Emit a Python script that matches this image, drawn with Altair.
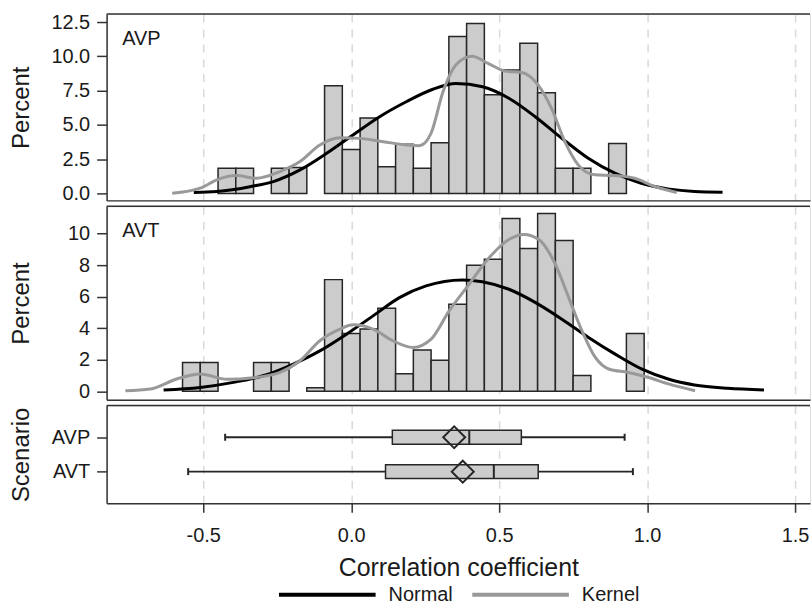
import altair as alt
import pandas as pd

# ---------------- values ----------------
BIN_WIDTH = 0.06

avp_bin_left = [-0.45, -0.39, -0.33, -0.27, -0.21, -0.15, -0.09, -0.03, 0.03, 0.09, 0.15,
                0.21, 0.27, 0.33, 0.39, 0.45, 0.51, 0.57, 0.63, 0.69, 0.75, 0.81, 0.87]
avp_percent = [1.85, 1.85, 0, 1.85, 1.9, 0, 7.85, 3.2, 5.5, 1.95, 3.6,
               1.85, 3.7, 11.45, 12.4, 7.2, 9.0, 10.95, 7.35, 1.85, 1.85, 0, 3.65]

avt_bin_left = [-0.57, -0.51, -0.45, -0.39, -0.33, -0.27, -0.21, -0.15, -0.09, -0.03, 0.03,
                0.09, 0.15, 0.21, 0.27, 0.33, 0.39, 0.45, 0.51, 0.57, 0.63, 0.69, 0.75, 0.81, 0.87, 0.93]
avt_percent = [1.82, 1.82, 0, 0, 1.82, 1.82, 0, 0.22, 7.08, 3.66, 3.94,
               5.27, 1.11, 2.61, 1.97, 5.52, 7.99, 8.37, 10.96, 9.06, 11.28, 9.57, 1.0, 0, 0, 3.66]

avp_normal_x = [-0.532, -0.454, -0.342, -0.263, -0.173, -0.083, 0.006, 0.096, 0.186, 0.276, 0.354,
                0.444, 0.534, 0.622, 0.712, 0.801, 0.891, 0.98, 1.07, 1.16, 1.255]
avp_normal_y = [0.07, 0.15, 0.5, 0.87, 1.72, 2.93, 4.27, 5.6, 6.69, 7.6, 8.02,
                7.78, 6.93, 5.6, 4.02, 2.57, 1.48, 0.75, 0.34, 0.15, 0.1]

avp_kernel_x = [-0.605, -0.51, -0.454, -0.387, -0.32, -0.241, -0.173, -0.106, -0.038, 0.029, 0.108,
                0.186, 0.231, 0.27, 0.31, 0.355, 0.408, 0.464, 0.52, 0.576, 0.632, 0.677, 0.722,
                0.767, 0.823, 0.891, 0.958, 1.026, 1.10]
avp_kernel_y = [0.02, 0.39, 1.0, 1.31, 1.11, 1.6, 2.33, 3.54, 4.07, 4.02, 3.78,
                3.54, 3.49, 4.4, 7.4, 9.4, 10.0, 9.47, 8.92, 8.82, 7.9, 6.2, 3.78,
                2.09, 1.36, 1.31, 1.11, 0.51, 0.07]

avt_normal_x = [-0.634, -0.51, -0.398, -0.286, -0.196, -0.106, -0.016, 0.074, 0.163, 0.253, 0.376,
                0.443, 0.533, 0.623, 0.712, 0.802, 0.892, 0.981, 1.071, 1.16, 1.272, 1.395]
avt_normal_y = [0.08, 0.24, 0.56, 1.04, 1.72, 2.56, 3.62, 4.78, 5.94, 6.68, 7.06,
                6.95, 6.47, 5.62, 4.57, 3.41, 2.35, 1.41, 0.77, 0.39, 0.18, 0.08]

avt_kernel_x = [-0.763, -0.679, -0.59, -0.51, -0.42, -0.331, -0.241, -0.173, -0.106, -0.038, 0.006,
                0.074, 0.141, 0.209, 0.27, 0.331, 0.398, 0.466, 0.533, 0.583, 0.634, 0.69, 0.735,
                0.78, 0.825, 0.87, 0.937, 1.005, 1.072, 1.162]
avt_kernel_y = [0.03, 0.14, 0.77, 1.09, 0.75, 0.85, 1.19, 1.93, 3.2, 3.94, 4.21,
                3.94, 3.2, 2.77, 3.3, 5.1, 6.78, 8.47, 9.63, 9.95, 9.63, 8.05, 5.94,
                3.83, 2.14, 1.41, 1.19, 0.87, 0.46, 0.03]

scenarios = ["AVP", "AVT"]
whisker_low = [-0.426, -0.551]
quart1 = [0.139, 0.116]
medians = [0.399, 0.482]
quart3 = [0.575, 0.632]
whisker_high = [0.924, 0.952]
means = [0.348, 0.377]

curve_names = ["Normal", "Kernel"]
curve_colors = ["#000000", "#999999"]

# ---------------- styling ----------------
FONT = "Liberation Sans"
FRAME = "#333333"
TEXT = "#1a1a1a"
BAR_FILL = "#cccccc"
EDGE = "#262626"
W = 706
X_DOMAIN = [-0.8266, 1.5505]
X_GRID = [-0.5, 0.0, 0.5, 1.0, 1.5]

x_scale = alt.Scale(domain=X_DOMAIN, nice=False, zero=False)

grid_kw = dict(values=X_GRID, grid=True, gridDash=[8, 7], gridColor="#d9d9d9", gridWidth=1.5,
               domain=True, domainColor=FRAME, domainWidth=1.5)

x_axis_plain = alt.Axis(ticks=False, labels=False, title=None, **grid_kw)
x_axis_full = alt.Axis(ticks=True, tickSize=9, tickColor=FRAME, tickWidth=1.5,
                       labels=True, labelFontSize=20, labelPadding=13, labelColor=TEXT, labelFont=FONT,
                       labelExpr="datum.value < 0 ? '-' + format(-datum.value, '.1f') : format(datum.value, '.1f')",
                       title="Correlation coefficient", titleFontSize=25, titleFont=FONT,
                       titleColor=TEXT, titleFontWeight="normal", titleBaseline="alphabetic", titleY=73,
                       **grid_kw)


def y_axis(title, values=None, fmt=None):
    kw = dict(grid=False, domain=True, domainColor=FRAME, domainWidth=1.5,
              ticks=True, tickSize=10, tickColor=FRAME, tickWidth=1.5,
              labelFontSize=20, labelPadding=7, labelColor=TEXT, labelFont=FONT,
              title=title, titleFontSize=24, titleFont=FONT, titleColor=TEXT, titleFontWeight="normal",
              titleX=-85, titleBaseline="middle", titleAngle=270)
    if values is not None:
        kw["values"] = values
    if fmt is not None:
        kw["format"] = fmt
    return alt.Axis(**kw)


legend = alt.Legend(title=None, orient="none", legendX=171, legendY=532, direction="horizontal",
                    symbolType="stroke", symbolSize=9409, symbolStrokeWidth=4,
                    labelFontSize=20, labelFont=FONT, labelColor=TEXT, labelOffset=11,
                    columnPadding=11)
color_scale = alt.Scale(domain=curve_names, range=curve_colors)


def hist_panel(bin_left, pct, nx, ny, kx, ky, y_domain, y_ticks, y_fmt, height, label, label_y):
    bars = pd.DataFrame({"x0": bin_left, "pct": pct})
    bars = bars[bars["pct"] > 0].copy()
    bars["x1"] = (bars["x0"] + BIN_WIDTH).round(3)
    curves = pd.concat([
        pd.DataFrame({"x": nx, "pct": ny, "curve": "Normal"}),
        pd.DataFrame({"x": kx, "pct": ky, "curve": "Kernel"}),
    ])
    y_scale = alt.Scale(domain=y_domain, nice=False, zero=False)
    yax = y_axis("Percent", y_ticks, y_fmt)

    bar_layer = alt.Chart(bars).mark_bar(fill=BAR_FILL, stroke=EDGE, strokeWidth=1.5).encode(
        x=alt.X("x0:Q", scale=x_scale, axis=x_axis_plain),
        x2="x1:Q",
        y=alt.Y("pct:Q", scale=y_scale, axis=yax),
        y2=alt.datum(0),
    )
    normal_layer = alt.Chart(curves[curves["curve"] == "Normal"]).mark_line(
        strokeWidth=3, interpolate="monotone").encode(
        x=alt.X("x:Q", scale=x_scale, axis=x_axis_plain),
        y=alt.Y("pct:Q", scale=y_scale, axis=yax),
        color=alt.Color("curve:N", scale=color_scale, legend=legend),
    )
    kernel_layer = alt.Chart(curves[curves["curve"] == "Kernel"]).mark_line(
        strokeWidth=3, interpolate="monotone").encode(
        x=alt.X("x:Q", scale=x_scale, axis=x_axis_plain),
        y=alt.Y("pct:Q", scale=y_scale, axis=yax),
        color=alt.Color("curve:N", scale=color_scale, legend=legend),
    )
    text_layer = alt.Chart(pd.DataFrame({"k": [0]})).mark_text(
        align="left", baseline="alphabetic", fontSize=20, font=FONT, color=TEXT).encode(
        x=alt.XDatum(-0.774, scale=x_scale, axis=x_axis_plain),
        y=alt.YDatum(label_y, scale=y_scale, axis=yax),
        text=alt.value(label),
    )
    top_rule = alt.Chart(pd.DataFrame({"k": [0]})).mark_rule(color=FRAME, strokeWidth=1.5).encode(
        y=alt.value(0))
    return alt.layer(bar_layer, normal_layer, kernel_layer, text_layer, top_rule).properties(
        width=W, height=height)


top = hist_panel(avp_bin_left, avp_percent, avp_normal_x, avp_normal_y, avp_kernel_x, avp_kernel_y,
                 [-0.5, 13.08], [0, 2.5, 5, 7.5, 10, 12.5], ".1f", 187, "AVP", 10.83)
mid = hist_panel(avt_bin_left, avt_percent, avt_normal_x, avt_normal_y, avt_kernel_x, avt_kernel_y,
                 [-0.537, 11.73], [0, 2, 4, 6, 8, 10], "d", 194, "AVT", 9.77)

box_df = pd.DataFrame({"scenario": scenarios, "lo": whisker_low, "q1": quart1, "med": medians,
                       "q3": quart3, "hi": whisker_high, "mean": means})
sc_scale = alt.Scale(type="point", domain=scenarios, padding=0.92)
sc_axis = y_axis("Scenario")
Ysc = alt.Y("scenario:N", scale=sc_scale, axis=sc_axis)

base = alt.Chart(box_df)
whisk = base.mark_rule(color=EDGE, strokeWidth=1.8).encode(
    x=alt.X("lo:Q", scale=x_scale, axis=x_axis_full), x2="hi:Q", y=Ysc)
cap_lo = base.mark_tick(orient="vertical", size=7, thickness=2, color=EDGE, opacity=1).encode(
    x=alt.X("lo:Q", scale=x_scale, axis=x_axis_full), y=Ysc)
cap_hi = base.mark_tick(orient="vertical", size=7, thickness=2, color=EDGE, opacity=1).encode(
    x=alt.X("hi:Q", scale=x_scale, axis=x_axis_full), y=Ysc)
box = base.mark_bar(size=14, fill=BAR_FILL, stroke=EDGE, strokeWidth=1.5).encode(
    x=alt.X("q1:Q", scale=x_scale, axis=x_axis_full), x2="q3:Q", y=Ysc)
med = base.mark_tick(orient="vertical", size=14, thickness=2, color=EDGE, opacity=1).encode(
    x=alt.X("med:Q", scale=x_scale, axis=x_axis_full), y=Ysc)
mean_pt = base.mark_point(shape="diamond", size=484, filled=False, stroke=EDGE, strokeWidth=2,
                          opacity=1).encode(
    x=alt.X("mean:Q", scale=x_scale, axis=x_axis_full), y=Ysc)
box_top = alt.Chart(pd.DataFrame({"k": [0]})).mark_rule(color=FRAME, strokeWidth=1.5).encode(
    y=alt.value(0))

box_panel = alt.layer(whisk, cap_lo, cap_hi, box, med, mean_pt, box_top).properties(width=W, height=98)

chart = alt.vconcat(top, mid, box_panel, spacing=6, bounds="flush").resolve_scale(
    x="independent", y="independent", color="shared"
).configure_view(stroke=None).configure(font=FONT, background="white").properties(
    padding={"left": 9, "top": 10, "right": 0, "bottom": 0})

chart.save("out.html", embed_options={"renderer": "svg", "actions": False})
